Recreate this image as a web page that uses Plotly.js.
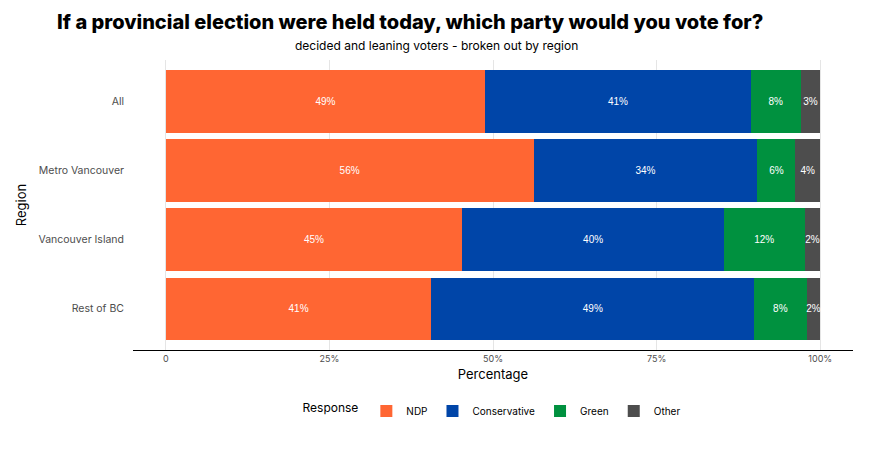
<!DOCTYPE html>
<html>
<head>
<meta charset="utf-8">
<script src="https://cdn.plot.ly/plotly-3.0.1.min.js"></script>
<style>
  html, body { margin: 0; padding: 0; background: #fff; }
  #chart { width: 894px; height: 454px; }
</style>
</head>
<body>
<div id="chart"></div>
<script>
var regions = ["All", "Metro Vancouver", "Vancouver Island", "Rest of BC"];
var parties = ["NDP", "Conservative", "Green", "Other"];
var colors = ["#FF6633", "#0045A8", "#00913F", "#4D4D4D"];

var ndp = [48.8, 56.2, 45.3, 40.6];
var conservative = [40.6, 34.2, 40.0, 49.3];
var green = [7.6, 5.8, 12.3, 8.0];
var other = [3.0, 3.8, 2.4, 2.1];

var values = [ndp, conservative, green, other];

var font = "Inter, 'Open Sans', sans-serif";

function plotVoteIntention() {
  var data = parties.map(function (p, i) {
    return {
      type: "bar",
      orientation: "h",
      name: p,
      x: values[i],
      y: regions,
      marker: { color: colors[i], line: { width: 0 } },
      text: values[i].map(function (v) { return Math.round(v) + "%"; }),
      textposition: "inside",
      insidetextanchor: "middle",
      textangle: 0,
      constraintext: "none",
      textfont: { family: "'Liberation Sans', Arial, sans-serif", size: 10, color: "#ffffff" },
      hoverinfo: "name+x"
    };
  });

  var layout = {
    width: 894,
    height: 454,
    barmode: "stack",
    bargap: 0.1,
    paper_bgcolor: "#ffffff",
    plot_bgcolor: "#ffffff",
    margin: { l: 133, r: 41, t: 60, b: 104 },
    font: { family: font, color: "#4d4d4d" },
    title: {
      text: "If a provincial election were held today, which party would you vote for?",
      font: { family: font, size: 20, weight: 800, color: "#000000" },
      xref: "paper",
      x: 0.385,
      xanchor: "center",
      yref: "container",
      y: 0.951,
      yanchor: "middle"
    },
    annotations: [{
      text: "decided and leaning voters - broken out by region",
      xref: "paper",
      yref: "paper",
      x: 0.422,
      y: 1.0,
      yshift: 15,
      xanchor: "center",
      yanchor: "middle",
      showarrow: false,
      font: { family: font, size: 12, color: "#000000" }
    }],
    xaxis: {
      range: [-5, 105],
      tickvals: [0, 25, 50, 75, 100],
      ticktext: ["0", "25%", "50%", "75%", "100%"],
      tickfont: { family: font, size: 9, color: "#4d4d4d" },
      showgrid: true,
      gridcolor: "#e5e5e5",
      gridwidth: 1,
      zeroline: false,
      showline: true,
      linecolor: "#000000",
      linewidth: 1.2,
      ticks: "",
      ticklen: 0,
      title: {
        text: "Percentage",
        font: { family: font, size: 13, color: "#000000" },
        standoff: 6
      },
      fixedrange: true
    },
    yaxis: {
      type: "category",
      categoryorder: "array",
      categoryarray: regions,
      range: [3.6, -0.6],
      tickfont: { family: font, size: 10.5, color: "#4d4d4d" },
      showgrid: false,
      zeroline: false,
      showline: false,
      ticks: "",
      ticklabelstandoff: 8,
      title: {
        text: "Region",
        font: { family: font, size: 13, color: "#000000" },
        standoff: 8
      },
      fixedrange: true
    },
    legend: {
      orientation: "h",
      x: 0.5,
      xanchor: "center",
      y: -0.21,
      yanchor: "middle",
      title: { text: "Response", font: { family: font, size: 12, color: "#000000" } },
      font: { family: font, size: 10, color: "#000000" },
      traceorder: "normal",
      itemwidth: 30,
      itemsizing: "constant"
    },
    showlegend: true
  };

  Plotly.newPlot("chart", data, layout, { displayModeBar: false });
}
plotVoteIntention();
</script>
</body>
</html>
